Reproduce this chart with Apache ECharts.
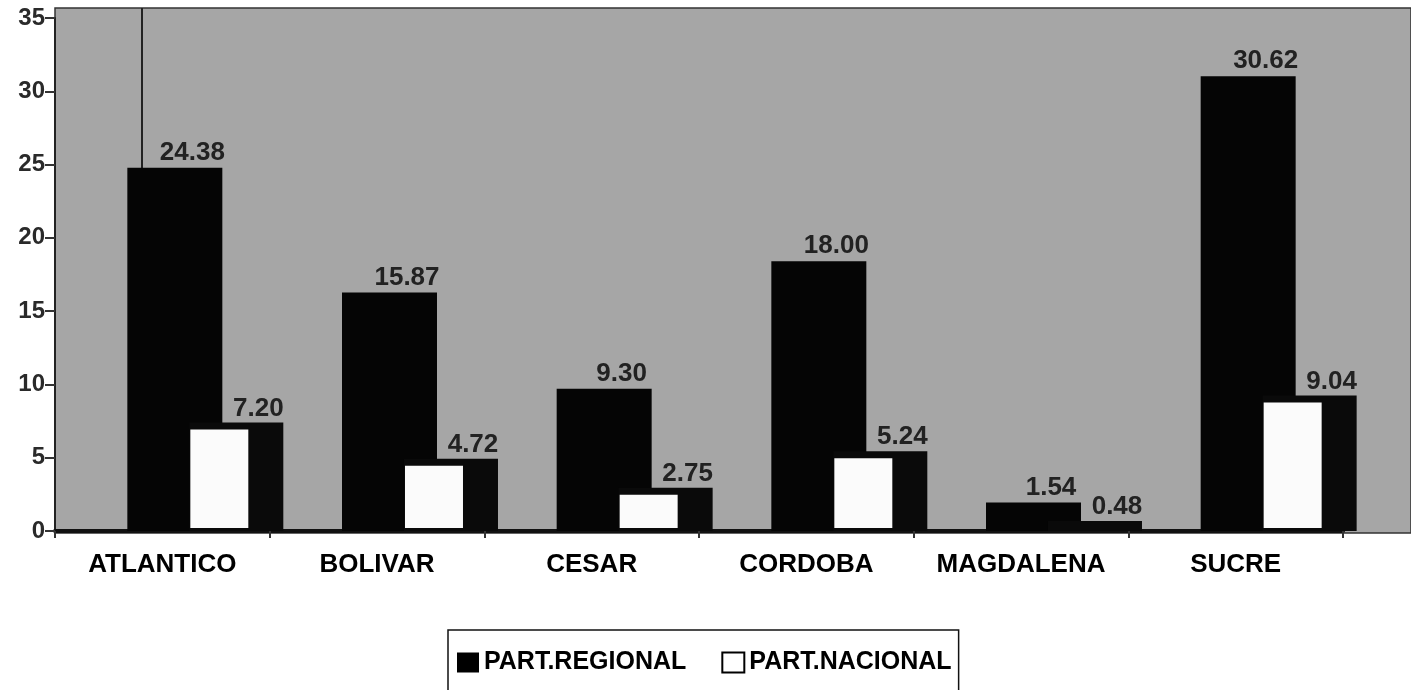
<!DOCTYPE html>
<html>
<head>
<meta charset="utf-8">
<script src="https://cdn.jsdelivr.net/npm/echarts@6/dist/echarts.min.js"></script>
<style>
html,body{margin:0;padding:0;background:#fff;}
#chart{width:1411px;height:690px;}
</style>
</head>
<body>
<div id="chart"></div>
<script>
const categories = ['ATLANTICO', 'BOLIVAR', 'CESAR', 'CORDOBA', 'MAGDALENA', 'SUCRE'];
const regional = [24.38, 15.87, 9.30, 18.00, 1.54, 30.62];
const nacional = [7.20, 4.72, 2.75, 5.24, 0.48, 9.04];
const seriesNames = ['PART.REGIONAL', 'PART.NACIONAL'];
const yMin = 0, yMax = 35, yInterval = 5;

const FONT = '"Liberation Sans", Arial, sans-serif';

function renderRegional(params, api) {
  const i = api.value(0), v = api.value(1);
  const top = api.coord([i, v]);
  const base = api.coord([i, 0]);
  const k = api.size([1, 0])[0] / 214.7;
  const cx = top[0];
  const yTop = top[1] - 6;
  return {
    type: 'group',
    children: [
      { type: 'rect', shape: { x: cx - 35 * k, y: yTop, width: 95 * k, height: base[1] - yTop },
        style: { fill: '#050505' } },
      { type: 'text', style: { text: v.toFixed(2), x: cx + 30 * k, y: yTop - 15,
          align: 'center', verticalAlign: 'middle', fontSize: 26, fontWeight: 'bold',
          fontFamily: FONT, fill: '#222' } }
    ]
  };
}

function renderNacional(params, api) {
  const i = api.value(0), v = api.value(1);
  const top = api.coord([i, v]);
  const base = api.coord([i, 0]);
  const k = api.size([1, 0])[0] / 214.7;
  const cx = top[0];
  const dTop = top[1] - 3;
  const wTop = top[1] + 4;
  return {
    type: 'group',
    children: [
      { type: 'rect', shape: { x: cx + 27 * k, y: dTop, width: 94 * k, height: base[1] - dTop },
        style: { fill: '#0a0a0a' } },
      { type: 'rect', shape: { x: cx + 28 * k, y: wTop, width: 58 * k, height: Math.max(0, base[1] - 3 - wTop) },
        style: { fill: '#fbfbfb' } },
      { type: 'text', style: { text: v.toFixed(2), x: cx + 96 * k, y: dTop - 14,
          align: 'center', verticalAlign: 'middle', fontSize: 26, fontWeight: 'bold',
          fontFamily: FONT, fill: '#222' } }
    ]
  };
}

const chart = echarts.init(document.getElementById('chart'), null, { renderer: 'canvas' });
chart.setOption({
  backgroundColor: '#ffffff',
  animation: false,
  graphic: [
    { type: 'rect', z: -10, silent: true, shape: { x: 55, y: 8, width: 1356, height: 525 },
      style: { fill: '#a6a6a6', stroke: '#333', lineWidth: 1.5 } },
    { type: 'line', z: -5, silent: true, shape: { x1: 142, y1: 8, x2: 142, y2: 168 },
      style: { stroke: '#222', lineWidth: 2 } }
  ],
  grid: { left: 55, right: 68, top: 18, bottom: 159, containLabel: false },
  legend: {
    data: [
      { name: seriesNames[0], icon: 'rect', itemStyle: { color: '#000' } },
      { name: seriesNames[1], icon: 'rect', itemStyle: { color: '#fff', borderColor: '#000', borderWidth: 2 } }
    ],
    left: 448,
    top: 630,
    orient: 'horizontal',
    itemWidth: 22,
    itemHeight: 20,
    itemGap: 35,
    padding: [20, 7, 40, 9],
    borderColor: '#111',
    borderWidth: 1.5,
    borderRadius: 0,
    backgroundColor: '#fff',
    textStyle: { fontSize: 25, fontFamily: FONT, fontWeight: 'bold', color: '#000' },
    selectedMode: false
  },
  xAxis: {
    type: 'category',
    data: categories,
    boundaryGap: true,
    axisLine: { show: true, lineStyle: { color: '#111', width: 4 } },
    axisTick: { show: true, interval: 0, length: 7, lineStyle: { color: '#333', width: 2 } },
    axisLabel: { interval: 0, hideOverlap: false, margin: 21, fontSize: 26, fontWeight: 'bold', fontFamily: FONT, color: '#000' },
    splitLine: { show: false }
  },
  yAxis: {
    type: 'value',
    min: yMin, max: yMax, interval: yInterval,
    axisLine: { show: true, lineStyle: { color: '#222', width: 2 } },
    axisTick: { show: true, length: 10, lineStyle: { color: '#333', width: 2 } },
    axisLabel: { margin: 10, fontSize: 24, fontWeight: 'bold', fontFamily: FONT, color: '#2a2a2a' },
    splitLine: { show: false }
  },
  series: [
    { name: seriesNames[0], type: 'custom', renderItem: renderRegional,
      itemStyle: { color: '#000' },
      encode: { x: 0, y: 1 },
      data: categories.map((c, i) => [i, regional[i]]) },
    { name: seriesNames[1], type: 'custom', renderItem: renderNacional,
      itemStyle: { color: '#fff', borderColor: '#000', borderWidth: 2 },
      encode: { x: 0, y: 1 },
      data: categories.map((c, i) => [i, nacional[i]]) }
  ]
});
</script>
</body>
</html>
